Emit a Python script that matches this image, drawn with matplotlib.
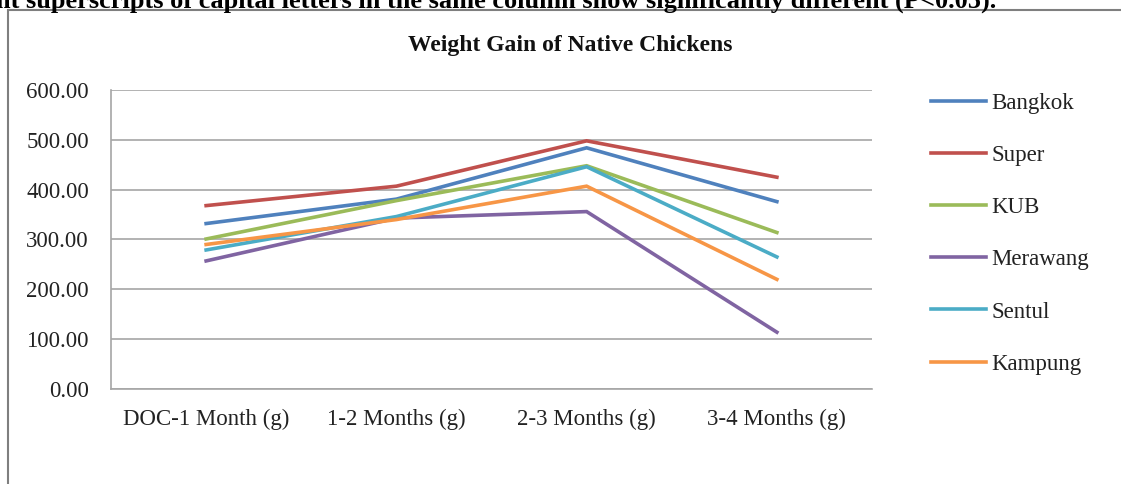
import matplotlib
matplotlib.use("Agg")
import matplotlib.pyplot as plt
from matplotlib.patches import Rectangle

plt.rcParams['font.family'] = ['Liberation Serif', 'DejaVu Serif']

# weight gain per period (g)
periods = ['DOC-1 Month (g)', '1-2 Months (g)', '2-3 Months (g)', '3-4 Months (g)']
bangkok = [332, 381, 484, 376]
super_ = [368, 407, 498, 425]
kub = [301, 378, 448, 314]
merawang = [257, 343, 356, 114]
sentul = [279, 346, 446, 265]
kampung = [290, 340, 407, 220]

breeds = ['Bangkok', 'Super', 'KUB', 'Merawang', 'Sentul', 'Kampung']
series = [bangkok, super_, kub, merawang, sentul, kampung]
colors = ['#4F81BD', '#C0504D', '#9BBB59', '#8064A2', '#4BACC6', '#F79646']

fig = plt.figure(figsize=(11.21, 4.84), dpi=100)
ax = fig.add_axes([111/1121, 95/484, 761/1121, 299/484])

x = range(len(periods))
for name, vals, c in zip(breeds, series, colors):
    ax.plot(x, vals, color=c, lw=2.6, label=name, solid_joinstyle='miter')

ax.set_xlim(-0.5, len(periods) - 0.5)
ax.set_ylim(0, 600)
ax.set_yticks(range(0, 601, 100))
ax.set_yticklabels([f'{v:.2f}' for v in range(0, 601, 100)])
ax.set_xticks(list(x))
ax.set_xticklabels(periods)
ax.tick_params(length=0, labelsize=16.5, colors='#222222')
ax.tick_params(axis='y', pad=16)
ax.tick_params(axis='x', pad=14)
ax.yaxis.grid(True, color='#a6a6a6', lw=1.2)
ax.set_axisbelow(True)
for s in ['top', 'right']:
    ax.spines[s].set_visible(False)
for s in ['left', 'bottom']:
    ax.spines[s].set_color('#a6a6a6')
    ax.spines[s].set_linewidth(1.2)

fig.text(570/1121, 1 - 45/484, 'Weight Gain of Native Chickens', ha='center',
         va='center', fontsize=17, fontweight='bold', color='#111111')

fig.legend(loc='upper left', bbox_to_anchor=(910/1121, 1 - 72/484), frameon=False,
           fontsize=16.5, handlelength=2.4, handletextpad=0.25, labelspacing=1.36,
           labelcolor='#222222')

# chart frame and the note line above it
fig.patches.append(Rectangle((8/1121, -0.1), 1.2, 1 - 10/484 + 0.1,
                             transform=fig.transFigure, fill=False,
                             edgecolor='#7f7f7f', lw=1.5))
fig.text(-0.004, 1 - 8/484,
         'nt superscripts of capital letters in the same column show significantly different (P<0.05).',
         ha='left', va='baseline', fontsize=19, fontweight='bold', color='black')

fig.savefig('out.png', dpi=100)
